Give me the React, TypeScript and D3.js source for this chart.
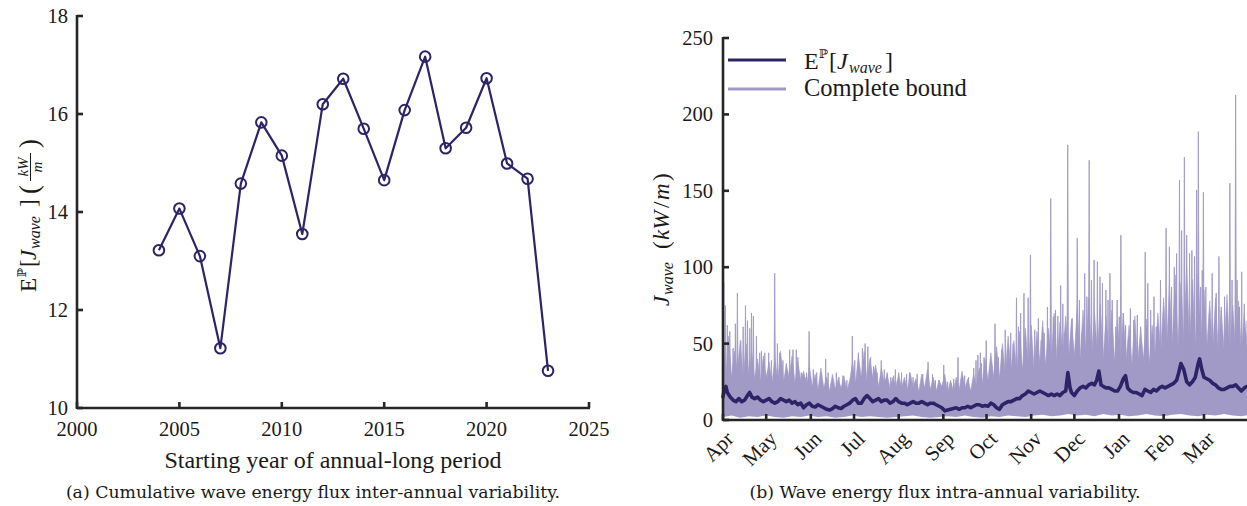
import React from 'react';
import * as d3 from 'd3';

// ---------- Panel (a): inter-annual ----------
const years = [2004, 2005, 2006, 2007, 2008, 2009, 2010, 2011, 2012, 2013, 2014, 2015, 2016, 2017, 2018, 2019, 2020, 2021, 2022, 2023];
const annualMean = [13.22, 14.07, 13.1, 11.22, 14.58, 15.83, 15.15, 13.55, 16.2, 16.72, 15.7, 14.65, 16.08, 17.17, 15.3, 15.72, 16.73, 14.99, 14.68, 10.76];
const leftXTicks = [2000, 2005, 2010, 2015, 2020, 2025];
const leftYTicks = [10, 12, 14, 16, 18];

// ---------- Panel (b): intra-annual (day index from 1 April) ----------
const monthLabels = ['Apr', 'May', 'Jun', 'Jul', 'Aug', 'Sep', 'Oct', 'Nov', 'Dec', 'Jan', 'Feb', 'Mar'];
const monthStartDays = [0, 30, 61, 91, 122, 153, 183, 214, 244, 275, 306, 334];
const rightYTicks = [0, 50, 100, 150, 200, 250];

const meanDays = [0, 1, 2, 3, 5, 7, 9, 11, 13, 15, 17, 18.5, 20, 22, 24, 26, 28, 30, 32, 34, 36, 38, 40, 42, 44, 46, 48, 50, 52, 54, 56, 58, 60, 62, 64, 66, 68, 70, 72, 74, 76, 78, 80, 82, 84, 86, 88, 90, 92, 94, 96, 98, 100, 102, 104, 106, 108, 110, 112, 114, 116, 118, 120, 122, 124, 126, 128, 130, 132, 134, 136, 138, 140, 142, 144, 146, 148, 150, 152, 154, 156, 158, 160, 162, 164, 166, 168, 170, 172, 174, 176, 178, 180, 182, 184, 186, 188, 190, 192, 194, 196, 198, 200, 202, 204, 206, 208, 210, 212, 214, 216, 218, 220, 222, 224, 226, 228, 230, 232, 234, 236, 238, 239.5, 241, 242, 244, 246, 248, 250, 252, 254, 256, 258, 259.5, 261, 262.5, 264, 266, 268, 270, 272, 274, 276, 278, 279.5, 281, 283, 285, 287, 289, 291, 293, 295, 297, 299, 301, 303, 305, 307, 309, 311, 313, 315, 316.5, 318, 320, 322, 324, 326, 328, 330, 331, 332.5, 334, 336, 338, 340, 342, 344, 346, 348, 350, 352, 354, 356, 358, 360, 362, 364];
const meanVals = [15, 21, 22, 18, 15, 13, 12, 14, 12, 13, 16, 18, 15, 14, 15, 13, 12, 13, 14, 12, 11, 12, 14, 13, 12, 13, 11, 12, 10, 11, 8, 10, 11, 9, 8.5, 10, 9, 8, 7, 6.5, 7.5, 9, 8, 7.5, 9, 10, 11, 13, 14, 11, 11, 14, 16, 14, 12, 13, 14, 12, 13, 13, 11, 12, 14, 12, 11, 11, 10, 11, 12, 11, 11, 12, 11, 10, 11, 11, 10, 9, 8, 6, 6.5, 7, 7.5, 8, 7, 8, 8, 9, 8, 9, 10, 10, 9, 9.5, 9, 11, 10, 8, 7, 10, 11, 12, 12, 13, 14, 14, 16, 17, 19, 18, 17, 18, 19, 18, 17, 16, 17, 16, 17, 16, 18, 19, 31, 21, 18, 16, 19, 21, 22, 21, 23, 24, 23, 26, 32, 23, 22, 21, 21, 20, 19, 19, 22, 27, 29, 21, 19, 18, 18, 17, 16, 20, 19, 18, 20, 19, 21, 22, 21, 22, 23, 24, 26, 31, 37, 33, 25, 23, 25, 28, 37, 40, 33, 28, 27, 26, 24, 23, 21, 20, 20, 21, 22, 22, 23, 21, 19, 21, 22];

const spikeDays = [0.5, 1.6, 3, 4.7, 7, 8.6, 10, 12.3, 14, 15.6, 17, 18.6, 19.8, 21.1, 23.2, 25.5, 26.7, 29, 31.7, 33.6, 35.9, 37.8, 39.3, 41.6, 44, 46.3, 48.6, 50.9, 52, 54.4, 57,
  58, 59.8, 62.7, 65.1, 68, 71.3, 73, 76, 78.7, 80.5, 83.3, 86, 89.8, 91.5, 94, 96.8, 98.7, 100.6, 102.5, 104.5, 107, 109.9, 112, 114, 116.5, 118.5,
  119.7, 122, 124, 127.5, 129.5, 132, 134.8, 138.7, 142.4, 145.5, 147.5, 150, 153.3, 156, 158.5, 160.2, 163.2, 166, 167.8, 170.5, 174.1, 175.7, 177, 178.7,
  179.5, 181.3, 182.8, 184.5, 186.6, 188.9, 191.3, 193.5, 196, 198.2, 199.8, 201.5, 203.8, 205.2, 206.7, 209, 211.9, 213.5, 216.5, 219, 221, 223, 225.3, 227.6, 229.4, 230.9, 232.5, 234.5, 236, 237,
  239.4, 242.5, 246, 247.5, 249.3, 251.2, 252.7, 254.3, 255.9, 257.7, 260, 261.8, 263.5, 265.9, 267.4, 268.7, 270.3, 272.7, 273.7, 275.2, 276.3, 278, 279.6, 282.9, 285.2, 287.7, 290, 293.2, 295, 297, 299.3,
  300.8, 303.8, 305.9, 307.7, 310, 311.5, 313.4, 315, 317, 318.5, 320.4, 322, 324, 325.6, 327.4, 328.9, 330.1, 331.7, 332.8, 333.6, 335.3, 337.8, 339.7, 342.5, 344.4, 346, 348.3, 350, 352, 353.5, 356, 357, 358.7, 360.2, 362, 364];
const spikePeaks = [90, 75, 62, 58, 47, 63, 83, 52, 61, 75, 65, 60, 70, 68, 55, 44, 45, 44, 44, 39, 96, 50, 44, 39, 37, 46, 46, 46, 41, 31, 28,
  31, 58, 33, 31, 31, 40, 31, 26, 31, 28, 29, 26, 55, 39, 44, 47, 50, 48, 41, 35, 31, 39, 33, 31, 28, 29,
  33, 31, 31, 30, 31, 28, 30, 30, 38, 30, 26, 26, 36, 25, 24, 27, 41, 28, 29, 28, 34, 39, 42.5, 44,
  37, 41, 52, 27, 35, 63, 41, 46, 59, 44, 57, 50, 80, 61, 70, 83, 80, 108, 59, 66.5, 52, 57, 74, 145, 67.6, 72, 68, 88, 76, 57,
  180, 66.5, 119, 78.5, 57, 96, 80.7, 170, 91.6, 104.7, 103.6, 93.8, 89.5, 85, 78.5, 96, 78.5, 61, 78.5, 67.6, 121, 70, 62, 73, 65.4, 68.7, 61, 110, 89.5, 72, 80.7,
  61, 91.6, 74, 125.5, 113.4, 87, 100, 109, 157, 124, 172, 121, 109, 111, 107, 150.5, 188.7, 87, 98, 149, 87, 70, 96, 83, 107, 74, 80.7, 65.4, 155, 91.6, 212.7, 91.6, 74, 97, 76, 65, 78];

// jagged top of the dense "Complete bound" band, one value every 2 days from 1 April
const bandStep = 2;
const bandHigh = [
  48, 30, 55, 28, 45, 32, 52, 26, 50, 30, 44, 27, 40, 25, 42,
  28, 38, 24, 40, 26, 45, 25, 36, 28, 42, 24, 38, 26, 32, 22,
  35, 22, 30, 20, 34, 21, 28, 19, 30, 20, 27, 21, 29, 19, 26,
  38, 24, 42, 28, 45, 26, 40, 28, 36, 22, 34, 24, 30, 21, 28, 22,
  30, 21, 28, 20, 31, 22, 27, 19, 30, 21, 33, 20, 28, 19, 26,
  22, 30, 18, 26, 19, 28, 20, 32, 21, 27, 19, 30, 22, 34, 24,
  40, 26, 44, 28, 48, 27, 50, 30, 55, 32, 52, 30, 58, 33, 60, 35,
  62, 34, 58, 38, 65, 36, 60, 40, 70, 38, 64, 42, 68, 40, 66,
  42, 75, 40, 72, 45, 80, 42, 70, 44, 76, 40, 68, 42, 72, 38,
  65, 38, 70, 40, 62, 36, 68, 38, 60, 40, 66, 37, 62, 42, 70, 44,
  80, 46, 88, 50, 95, 48, 90, 52, 100, 50, 92, 48, 96, 52,
  85, 48, 78, 45, 80, 44, 72, 46, 82, 42, 75, 45, 78, 44, 70, 46, 72];
// bottom of the band, one value every 6 days
const lowStep = 6;
const bandLow = [2, 3, 1.5, 2.5, 2, 3, 2, 1.5, 2.5, 2, 3, 2, 2.5, 1.5, 2, 3, 2, 2.5, 2, 1.5, 2, 2.5, 3, 2, 1.5, 2, 2.5, 2, 3, 2, 1.5, 2.5, 2, 3, 2.5, 2, 3, 3.5, 2.5, 3, 4, 3, 3.5, 2.5, 4, 3, 3.5, 2.5, 3, 4, 3, 2.5, 3.5, 4, 3, 2.5, 3.5, 3, 4, 3, 2.5, 3.5];

const DARK = '#2d2468';
const LIGHT = '#a19ac6';
const AXIS = '#262626';
const SERIF = "'Liberation Serif', 'Times New Roman', serif";
const CAPTION = "'DejaVu Serif', serif";

export default function App() {
  const W = 1247, H = 506;
  const xL = d3.scaleLinear().domain([2000, 2025]).range([77, 589]);
  const yL = d3.scaleLinear().domain([10, 18]).range([408, 16]);
  const xR = d3.scaleLinear().domain([0, 365]).range([723, 1248.6]);
  const yR = d3.scaleLinear().domain([0, 250]).range([420, 38]);

  const leftLine = d3.line<number>().x((_, i) => xL(years[i])).y((v) => yL(v))(annualMean) || '';

  const bandArea = d3.area<number>()
    .x((_, i) => xR(i * bandStep))
    .y0(yR(0))
    .y1((v) => yR(v))(bandHigh) || '';
  const lowArea = d3.area<number>()
    .x((_, i) => xR(i * lowStep))
    .y0(yR(0) + 1)
    .y1((v) => yR(v))(bandLow) || '';
  const meanLine = d3.line<number>().x((_, i) => xR(meanDays[i])).y((v) => yR(v))(meanVals) || '';
  const spikePaths = spikeDays.map((d, i) => {
    const p = d3.path();
    p.moveTo(xR(d - 0.6), yR(0));
    p.lineTo(xR(d), yR(spikePeaks[i]));
    p.lineTo(xR(d + 0.6), yR(0));
    p.closePath();
    return p.toString();
  });

  const tick = 6;
  const axisW = 2.6;

  return (
    <svg width={W} height={H} style={{ position: 'absolute', left: 0, top: 0, background: '#fff' }} xmlns="http://www.w3.org/2000/svg">
      <rect x={0} y={0} width={W} height={H} fill="#fff" />
      {/* ================= Panel (a) ================= */}
      <path d={leftLine} fill="none" stroke={DARK} strokeWidth={2.2} strokeLinejoin="round" />
      {annualMean.map((v, i) => (
        <circle key={i} cx={xL(years[i])} cy={yL(v)} r={5.3} fill="none" stroke={DARK} strokeWidth={2} />
      ))}
      <line x1={xL(2000)} x2={xL(2025) + 1} y1={yL(10)} y2={yL(10)} stroke={AXIS} strokeWidth={axisW} />
      <line x1={xL(2000)} x2={xL(2000)} y1={yL(10) + 1} y2={yL(18) - 1} stroke={AXIS} strokeWidth={axisW} />
      {leftXTicks.map((t) => (
        <g key={t}>
          <line x1={xL(t)} x2={xL(t)} y1={yL(10)} y2={yL(10) - tick} stroke={AXIS} strokeWidth={axisW} />
          <text x={xL(t)} y={436} textAnchor="middle" fontFamily={SERIF} fontSize={20.5} fill="#1a1a1a">{t}</text>
        </g>
      ))}
      {leftYTicks.map((t) => (
        <g key={t}>
          <line x1={xL(2000)} x2={xL(2000) + tick} y1={yL(t)} y2={yL(t)} stroke={AXIS} strokeWidth={axisW} />
          <text x={68} y={yL(t) + 7} textAnchor="end" fontFamily={SERIF} fontSize={20.5} fill="#1a1a1a">{t}</text>
        </g>
      ))}
      <text x={333} y={468} textAnchor="middle" fontFamily={SERIF} fontSize={24} fill="#1a1a1a">Starting year of annual-long period</text>
      <g transform="translate(36,292) rotate(-90)" fontFamily={SERIF} fill="#1a1a1a">
        <text x={0} y={0} fontSize={23}>E</text>
        <text x={15} y={-10} fontSize={12} fontFamily="'DejaVu Serif', serif">ℙ</text>
        <text x={25} y={0} fontSize={23}>[</text>
        <text x={32} y={0} fontSize={23} fontStyle="italic">J</text>
        <text x={43} y={4} fontSize={16} fontStyle="italic">wave</text>
        <text x={85} y={0} fontSize={23}>]</text>
        <text x={98} y={2} fontSize={27}>(</text>
        <text x={125} y={-8} fontSize={15} fontStyle="italic" textAnchor="middle">kW</text>
        <line x1={111} x2={139} y1={-5.5} y2={-5.5} stroke="#1a1a1a" strokeWidth={1} />
        <text x={125} y={6} fontSize={15} fontStyle="italic" textAnchor="middle">m</text>
        <text x={144} y={2} fontSize={27}>)</text>
      </g>
      <text x={313} y={498} textAnchor="middle" fontFamily={CAPTION} fontSize={17.3} fill="#1a1a1a">(a) Cumulative wave energy flux inter-annual variability.</text>

      {/* ================= Panel (b) ================= */}
      <path d={bandArea} fill={LIGHT} stroke={LIGHT} strokeWidth={0.6} strokeLinejoin="round" />
      {spikePaths.map((d, i) => (
        <path key={i} d={d} fill={LIGHT} stroke={LIGHT} strokeWidth={0.9} strokeLinejoin="miter" />
      ))}
      <path d={lowArea} fill="#fff" />
      <path d={meanLine} fill="none" stroke={DARK} strokeWidth={3.6} strokeLinejoin="round" strokeLinecap="round" />
      <line x1={xR(0)} x2={W} y1={yR(0)} y2={yR(0)} stroke={AXIS} strokeWidth={axisW} />
      <line x1={xR(0)} x2={xR(0)} y1={yR(0) + 1} y2={yR(250) - 1} stroke={AXIS} strokeWidth={axisW} />
      {monthStartDays.map((d, i) => (
        <g key={d}>
          <line x1={xR(d)} x2={xR(d)} y1={yR(0)} y2={yR(0) - tick} stroke={AXIS} strokeWidth={axisW} />
          <text transform={`translate(${xR(d) + 12},${440}) rotate(-45)`} textAnchor="end" fontFamily={SERIF} fontSize={21} fill="#1a1a1a">{monthLabels[i]}</text>
        </g>
      ))}
      {rightYTicks.map((t) => (
        <g key={t}>
          <line x1={xR(0)} x2={xR(0) + tick} y1={yR(t)} y2={yR(t)} stroke={AXIS} strokeWidth={axisW} />
          <text x={713} y={yR(t) + 7} textAnchor="end" fontFamily={SERIF} fontSize={20.5} fill="#1a1a1a">{t}</text>
        </g>
      ))}
      <g transform="translate(669,306) rotate(-90)" fontFamily={SERIF} fill="#1a1a1a">
        <text x={0} y={0} fontSize={23} fontStyle="italic">J</text>
        <text x={11} y={4} fontSize={16} fontStyle="italic">wave</text>
        <text x={57} y={0} fontSize={23}>(</text>
        <text x={66} y={0} fontSize={23} fontStyle="italic">kW</text>
        <text x={98} y={0} fontSize={23}>/</text>
        <text x={106} y={0} fontSize={23} fontStyle="italic">m</text>
        <text x={125} y={0} fontSize={23}>)</text>
      </g>
      <line x1={728} x2={786} y1={60} y2={60} stroke={DARK} strokeWidth={3} />
      <line x1={728} x2={786} y1={89} y2={89} stroke={LIGHT} strokeWidth={3} />
      <g fontFamily={SERIF} fill="#1a1a1a">
        <text x={804} y={69} fontSize={24}>E</text>
        <text x={819} y={58} fontSize={12} fontFamily="'DejaVu Serif', serif">ℙ</text>
        <text x={829} y={69} fontSize={24}>[</text>
        <text x={837} y={69} fontSize={24} fontStyle="italic">J</text>
        <text x={849} y={73} fontSize={16} fontStyle="italic">wave</text>
        <text x={885} y={69} fontSize={24}>]</text>
        <text x={804} y={96} fontSize={24.5}>Complete bound</text>
      </g>
      <text x={945} y={498} textAnchor="middle" fontFamily={CAPTION} fontSize={17.3} fill="#1a1a1a">(b) Wave energy flux intra-annual variability.</text>
    </svg>
  );
}
